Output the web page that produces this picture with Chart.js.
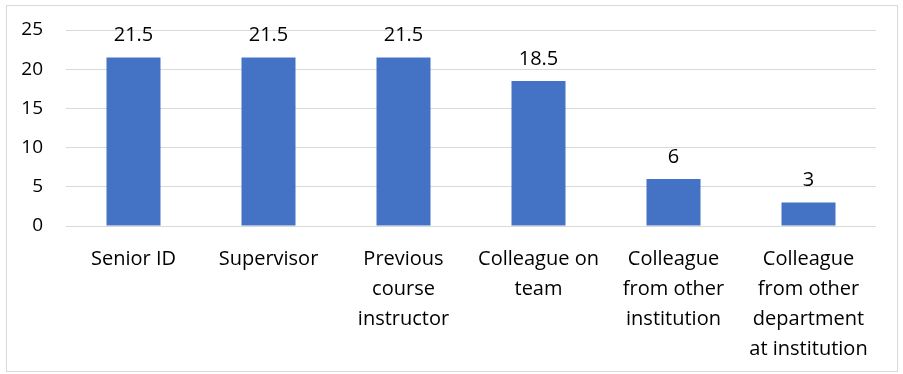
<!DOCTYPE html>
<html>
<head>
<meta charset="utf-8">
<script src="https://cdn.jsdelivr.net/npm/chart.js@4"></script>
<style>
  html, body { margin: 0; padding: 0; background: #fff; }
  #wrap { width: 903px; height: 374px; }
</style>
</head>
<body>
<div id="wrap"><canvas id="chart" width="903" height="374"></canvas></div>
<script>
const categories = [
    ['Senior ID'],
    ['Supervisor'],
    ['Previous', 'course', 'instructor'],
    ['Colleague on', 'team'],
    ['Colleague', 'from other', 'institution'],
    ['Colleague', 'from other', 'department', 'at institution']
];
const values = [21.5, 21.5, 21.5, 18.5, 6, 3];
const yTicks = [0, 5, 10, 15, 20, 25];

const FONT = "'Open Sans', 'Liberation Sans', sans-serif";

// white background + light outer frame
const frame = {
    id: 'frame',
    beforeDraw: chart => {
        const ctx = chart.ctx;
        ctx.save();
        ctx.fillStyle = '#fff';
        ctx.fillRect(0, 0, chart.width, chart.height);
        ctx.strokeStyle = '#d9d9d9';
        ctx.lineWidth = 1;
        ctx.strokeRect(6.5, 5.5, 891, 366);
        ctx.restore();
    }
};

// value labels above bars
const valueLabels = {
    id: 'valueLabels',
    afterDatasetsDraw: chart => {
        const ctx = chart.ctx;
        const meta = chart.getDatasetMeta(0);
        ctx.save();
        ctx.font = `20px ${FONT}`;
        ctx.fillStyle = '#000';
        ctx.textAlign = 'center';
        ctx.textBaseline = 'middle';
        meta.data.forEach((bar, i) => {
            ctx.fillText(String(values[i]), bar.x, bar.y - 22);
        });
        ctx.restore();
    }
};

new Chart(document.getElementById('chart'), {
    type: 'bar',
    data: {
        labels: categories,
        datasets: [{
            data: values,
            backgroundColor: '#4472c4',
            barPercentage: 0.4,
            categoryPercentage: 1
        }]
    },
    options: {
        responsive: false,
        animation: false,
        layout: { padding: { left: 0, right: 27, top: 30, bottom: 0 } },
        plugins: { legend: { display: false }, tooltip: { enabled: false } },
        scales: {
            x: {
                grid: { display: false },
                border: { display: false },
                ticks: {
                    color: '#000',
                    font: { family: FONT, size: 20, lineHeight: 1.5 },
                    padding: 10,
                    maxRotation: 0,
                    autoSkip: false
                },
                afterFit: axis => { axis.height = 148; }
            },
            y: {
                min: 0,
                max: 25,
                afterBuildTicks: axis => { axis.ticks = yTicks.map(v => ({ value: v })); },
                grid: { color: '#d9d9d9', lineWidth: 1, drawTicks: true, tickLength: 23, tickColor: 'rgba(0,0,0,0)' },
                border: { display: false },
                ticks: {
                    color: '#000',
                    font: { family: FONT, size: 19 },
                    padding: 0
                },
                afterFit: axis => { axis.width = 66; }
            }
        }
    },
    plugins: [frame, valueLabels]
});
</script>
</body>
</html>
